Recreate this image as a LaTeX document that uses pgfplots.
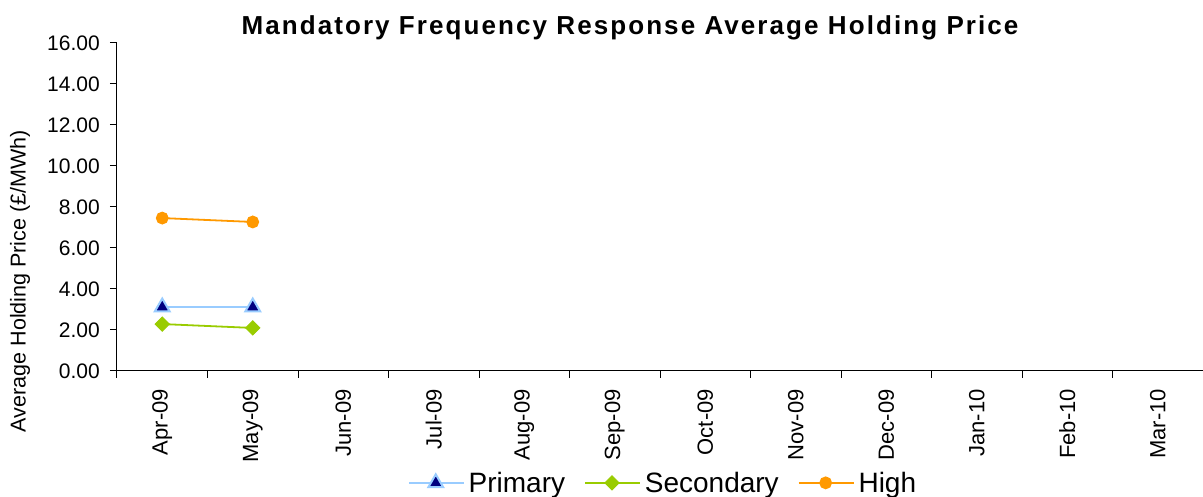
\documentclass[border=0pt]{standalone}
\usepackage{pgfplots}
\pgfplotsset{compat=1.18}
\usepackage{fontspec}
\setmainfont{Liberation Sans}
\newfontfamily\titlefont[LetterSpace=8]{Liberation Sans}
\definecolor{cPrim}{HTML}{99CCFF}
\definecolor{cPrimFill}{HTML}{000080}
\definecolor{cSec}{HTML}{99CC00}
\definecolor{cHigh}{HTML}{FF9900}
\begin{document}
\begin{tikzpicture}
\begin{axis}[
  at={(0,0)}, anchor=south west,
  scale only axis,
  width=1086pt, height=328pt,
  xmin=-0.5, xmax=11.5,
  ymin=0, ymax=16,
  ytick={0,2,...,16},
  xtick={0,...,11},
  xticklabels={Apr-09,May-09,Jun-09,Jul-09,Aug-09,Sep-09,Oct-09,Nov-09,Dec-09,Jan-10,Feb-10,Mar-10},
  minor xtick={-0.5,0.5,...,11.5},
  axis x line=bottom, axis y line=left,
  axis line style={-, black, line width=1pt},
  tick align=outside,
  major x tick style={draw=none},
  minor x tick style={black, line width=1pt},
  y tick style={black, line width=1pt},
  major tick length=7pt, minor tick length=7pt,
  /pgf/number format/assume math mode=true,
  yticklabel style={/pgf/number format/fixed, /pgf/number format/fixed zerofill, /pgf/number format/precision=2,
     font=\fontsize{21}{25}\selectfont, inner sep=0pt},
  yticklabel shift=10pt,
  xticklabel style={rotate=90, anchor=east, inner sep=0pt, font=\fontsize{22}{26}\selectfont},
  xticklabel shift=11pt,
  title={\titlefont\bfseries Mandatory Frequency Response Average Holding Price},
  title style={at={(axis description cs:0.4724,1.029)}, anchor=center, font=\fontsize{26}{30}\selectfont},
  ylabel={Average Holding Price (£/MWh)},
  ylabel style={at={(axis description cs:-0.0893,0.274)}, anchor=center, rotate=0, font=\fontsize{21.5}{25}\selectfont},
  legend style={at={(axis description cs:0.5037,-0.341)}, anchor=center, draw=none, fill=none,
     legend columns=3, font=\fontsize{28}{31}\selectfont,
     /tikz/every even column/.append style={column sep=15pt}, inner sep=0pt,
     nodes={inner xsep=4pt}},
  legend image code/.code={\draw[mark repeat=2,mark phase=2] plot coordinates {(0pt,0pt) (27pt,0pt) (55pt,0pt)};},
  every axis plot/.append style={line width=1.8pt},
]
\addplot[color=cPrim, mark=triangle*, mark size=8.5pt, mark options={fill=cPrimFill, draw=cPrim, line width=2pt}]
  coordinates {(0,3.12) (1,3.12)};
\addlegendentry{Primary}
\addplot[color=cSec, mark=square*, mark size=5pt, mark options={fill=cSec, draw=cSec, rotate=45, line width=1pt}]
  coordinates {(0,2.29) (1,2.10)};
\addlegendentry{Secondary}
\addplot[color=cHigh, mark=*, mark size=5.5pt, mark options={fill=cHigh, draw=cHigh}]
  coordinates {(0,7.46) (1,7.27)};
\addlegendentry{High}
\end{axis}
\pgfresetboundingbox
\path (-117pt,-126pt) rectangle (1086pt,371pt);
\end{tikzpicture}
\end{document}
